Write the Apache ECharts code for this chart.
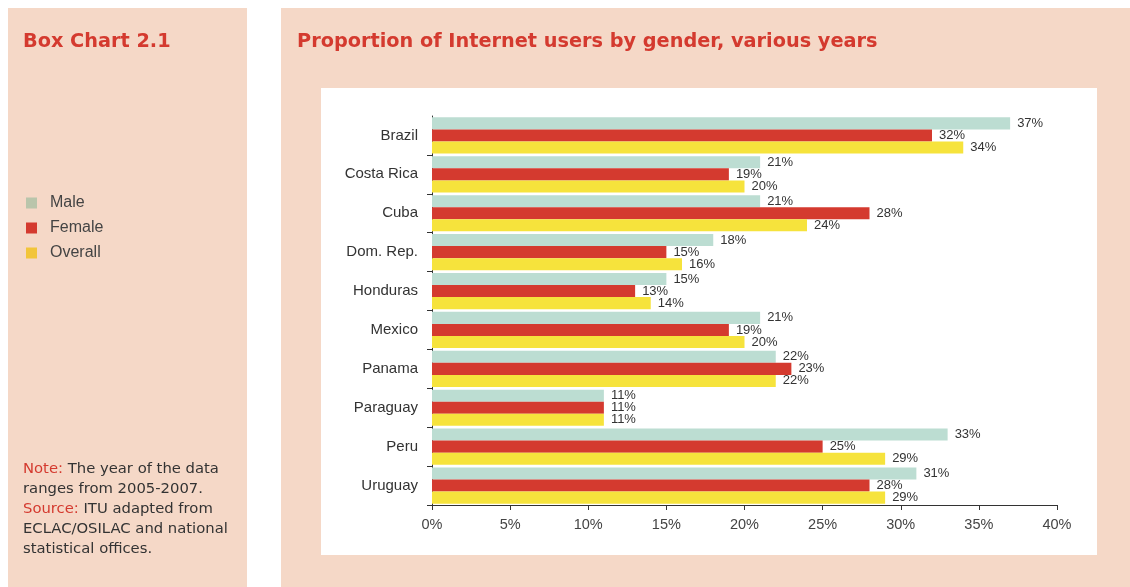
<!DOCTYPE html>
<html>
<head>
<meta charset="utf-8">
<script src="https://cdn.jsdelivr.net/npm/echarts@6/dist/echarts.min.js"></script>
<style>
  html, body { margin: 0; padding: 0; background: #ffffff; }
  #chart { width: 1130px; height: 587px; }
</style>
</head>
<body>
<div id="chart"></div>
<script>
// Countries, top to bottom
const countries = ['Brazil', 'Costa Rica', 'Cuba', 'Dom. Rep.', 'Honduras', 'Mexico', 'Panama', 'Paraguay', 'Peru', 'Uruguay'];
// Share of internet users (%)
const male    = [37, 21, 21, 18, 15, 21, 22, 11, 33, 31];
const female  = [32, 19, 28, 15, 13, 19, 23, 11, 25, 28];
const overall = [34, 20, 24, 16, 14, 20, 22, 11, 29, 29];
// Value axis ticks
const xTicks = [0, 5, 10, 15, 20, 25, 30, 35, 40];

const peach = '#f5d8c7';
const red = '#d43a2f';
const headFont = 'bold 19.3px "DejaVu Sans", Verdana, sans-serif';
const noteFont = '14.8px "DejaVu Sans", Verdana, sans-serif';

const chart = echarts.init(document.getElementById('chart'), null, { renderer: 'canvas' });

const labelStyle = {
  show: true,
  position: 'right',
  distance: 7,
  color: '#333',
  fontFamily: 'Liberation Sans, Arial, sans-serif',
  fontSize: 13,
  formatter: p => p.value + '%'
};

function barSeries(name, data, color) {
  return {
    name: name,
    type: 'bar',
    data: data,
    barGap: '0%',
    barCategoryGap: '7%',
    itemStyle: { color: color },
    label: labelStyle,
    z: 3
  };
}

chart.setOption({
  animation: false,
  backgroundColor: '#ffffff',
  graphic: [
    { type: 'rect', shape: { x: 8, y: 8, width: 239, height: 579 }, style: { fill: peach }, z: -10 },
    { type: 'rect', shape: { x: 281, y: 8, width: 849, height: 579 }, style: { fill: peach }, z: -10 },
    { type: 'rect', shape: { x: 321, y: 88, width: 776, height: 467 }, style: { fill: '#ffffff' }, z: -9 },
    {
      type: 'text', left: 23, top: 32,
      style: { text: 'Box Chart 2.1', fill: red, font: headFont }
    },
    {
      type: 'text', left: 297, top: 32,
      style: { text: 'Proportion of Internet users by gender, various years', fill: red, font: headFont }
    },
    {
      type: 'text', left: 23, top: 459,
      style: {
        text: '{r|Note:} The year of the data\nranges from 2005-2007.\n{r|Source:} ITU adapted from\nECLAC/OSILAC and national\nstatistical offices.',
        fill: '#333',
        font: noteFont,
        lineHeight: 20,
        rich: { r: { fill: red, font: noteFont, lineHeight: 20 } }
      }
    }
  ],
  legend: {
    orient: 'vertical',
    left: 26,
    top: 195,
    padding: 0,
    itemWidth: 11,
    itemHeight: 11,
    itemGap: 9,
    icon: 'rect',
    textStyle: { color: '#444', fontSize: 16, fontFamily: 'Liberation Sans, Arial, sans-serif', padding: [0, 0, 0, 8] },
    data: [
      { name: 'Male', itemStyle: { color: '#b9c5ab' } },
      { name: 'Female', itemStyle: { color: red } },
      { name: 'Overall', itemStyle: { color: '#f2c53a' } }
    ]
  },
  grid: { left: 432, right: 73, top: 116, bottom: 82, containLabel: false },
  xAxis: {
    type: 'value',
    min: 0,
    max: 40,
    interval: 5,
    axisLine: { show: true, lineStyle: { color: '#333', width: 1 } },
    axisTick: { show: true, length: 5, lineStyle: { color: '#333' } },
    splitLine: { show: false },
    axisLabel: {
      color: '#444', fontSize: 14.5, margin: 12,
      fontFamily: 'Liberation Sans, Arial, sans-serif',
      formatter: v => (xTicks.indexOf(v) >= 0 ? v + '%' : '')
    }
  },
  yAxis: {
    type: 'category',
    data: countries,
    inverse: true,
    axisLine: { show: true, lineStyle: { color: '#333', width: 1 } },
    axisTick: { show: true, length: 5, interval: (i) => i !== 0, lineStyle: { color: '#333' } },
    axisLabel: { color: '#333', fontSize: 15, margin: 14, fontFamily: 'Liberation Sans, Arial, sans-serif' }
  },
  series: [
    barSeries('Male', male, '#bcddd2'),
    barSeries('Female', female, '#d43a2f'),
    barSeries('Overall', overall, '#f6e33c')
  ]
});
</script>
</body>
</html>
